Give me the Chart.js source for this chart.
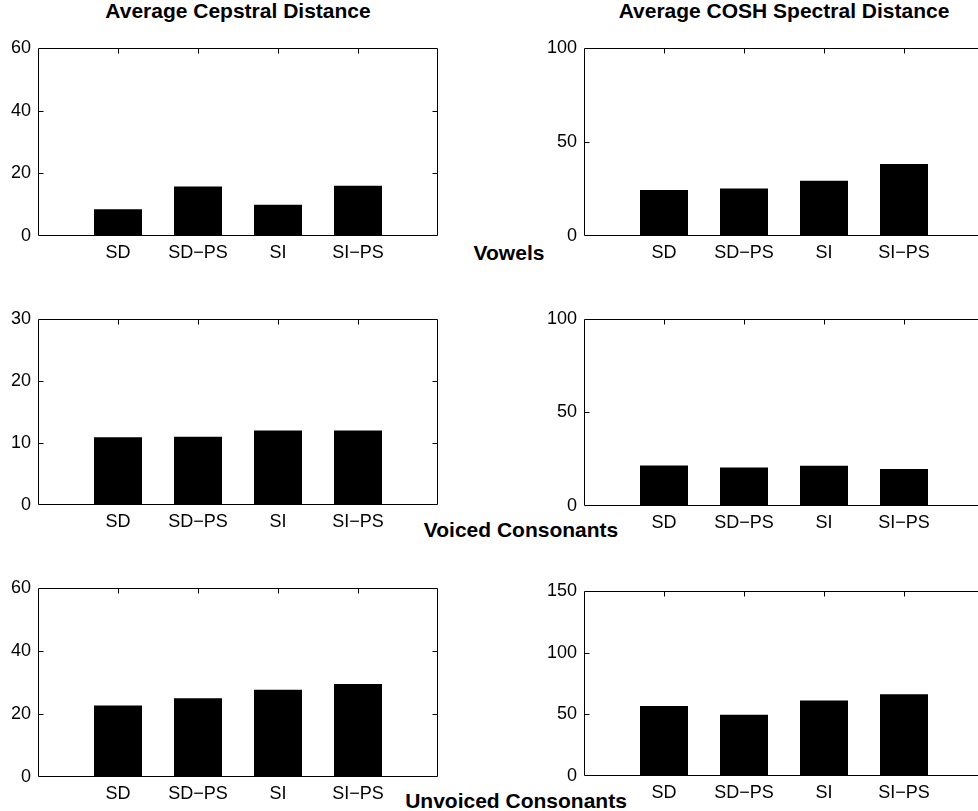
<!DOCTYPE html>
<html lang="en">
<head>
  <meta charset="UTF-8">
  <title>Average Cepstral / COSH Spectral Distance</title>
  <script src="https://cdn.jsdelivr.net/npm/chart.js"></script>
  <style>
    html, body { margin: 0; padding: 0; background: #fff; overflow: hidden; }
    body { width: 978px; height: 811px; position: relative; font-family: "Liberation Sans", Arial, Helvetica, sans-serif; }
    canvas { position: absolute; }
    .lbl { position: absolute; font-weight: bold; font-size: 21px; line-height: 21px; white-space: nowrap; color: #000; transform: translateX(-50%); }
  </style>
</head>
<body>
  <div class="lbl" style="left:238px; top:0px;">Average Cepstral Distance</div>
  <div class="lbl" style="left:784px; top:0px;">Average COSH Spectral Distance</div>
  <div class="lbl" style="left:509px; top:242px;">Vowels</div>
  <div class="lbl" style="left:521px; top:519px;">Voiced Consonants</div>
  <div class="lbl" style="left:516px; top:790px;">Unvoiced Consonants</div>

  <canvas id="cepVowels"></canvas>
  <canvas id="coshVowels"></canvas>
  <canvas id="cepVoiced"></canvas>
  <canvas id="coshVoiced"></canvas>
  <canvas id="cepUnvoiced"></canvas>
  <canvas id="coshUnvoiced"></canvas>

<script>
// data
const categories = ["SD", "SD\u2212PS", "SI", "SI\u2212PS"];

const cepstralVowels    = [8.5, 15.8, 10.0, 16.0];
const coshVowels        = [24.4, 25.3, 29.3, 38.2];
const cepstralVoiced    = [10.9, 11.0, 12.0, 12.0];
const coshVoiced        = [21.7, 20.5, 21.5, 19.7];
const cepstralUnvoiced  = [22.7, 25.0, 27.7, 29.5];
const coshUnvoiced      = [56.6, 49.6, 61.1, 66.2];

const yMax  = [60, 100, 30, 100, 60, 150];
const yStep = [20, 50, 10, 50, 20, 50];

Chart.defaults.font.family = '"Liberation Sans", Arial, Helvetica, sans-serif';
Chart.defaults.color = "#000";

// matlab style box with inward ticks
const boxPlugin = {
  id: "box",
  afterDraw(chart) {
    const { ctx, chartArea: a } = chart;
    const xs = chart.scales.x, ys = chart.scales.y;
    const l = Math.round(a.left) + 0.5, r = Math.round(a.right) - 0.5;
    const t = Math.round(a.top) + 0.5, b = Math.round(a.bottom) - 0.5;
    ctx.save();
    ctx.strokeStyle = "#000";
    ctx.lineWidth = 1;
    ctx.beginPath();
    ctx.rect(l, t, r - l, b - t);
    ys.ticks.forEach(tk => {
      if (tk.value <= ys.min || tk.value >= ys.max) return;
      const py = Math.round(ys.getPixelForValue(tk.value)) + 0.5;
      ctx.moveTo(l, py); ctx.lineTo(l + 5, py);
      ctx.moveTo(r, py); ctx.lineTo(r - 5, py);
    });
    xs.ticks.forEach(tk => {
      if (tk.value <= xs.min || tk.value >= xs.max) return;
      const px = Math.round(xs.getPixelForValue(tk.value)) + 0.5;
      ctx.moveTo(px, t); ctx.lineTo(px, t + 5);
      ctx.moveTo(px, b); ctx.lineTo(px, b - 5);
    });
    ctx.stroke();
    ctx.restore();
  }
};

function makePanel(id, values, max, step, left, top, bottom) {
  const axisW = 60, padTop = 15, padRight = 15, axisH = 40, plotW = 400;
  const h = bottom - top;
  const cv = document.getElementById(id);
  cv.width = axisW + plotW + padRight;
  cv.height = padTop + h + axisH;
  cv.style.left = (left - axisW) + "px";
  cv.style.top = (top - padTop) + "px";

  new Chart(cv.getContext("2d"), {
    type: "bar",
    data: {
      datasets: [{
        data: values.map((v, i) => ({ x: i + 1, y: v })),
        backgroundColor: "#000",
        borderWidth: 0,
        barPercentage: 0.6,
        categoryPercentage: 1
      }]
    },
    options: {
      responsive: false,
      animation: false,
      events: [],
      layout: { padding: { top: padTop, right: padRight, left: 0, bottom: 0 } },
      plugins: { legend: { display: false }, tooltip: { enabled: false } },
      scales: {
        x: {
          type: "linear",
          min: 0,
          max: 5,
          offset: false,
          grid: { display: false, drawTicks: false, offset: false },
          border: { display: false },
          ticks: {
            stepSize: 1,
            autoSkip: false,
            maxRotation: 0,
            padding: 6,
            font: { size: 18 },
            callback: v => categories[v - 1] || ""
          },
          afterFit: s => { s.height = axisH; }
        },
        y: {
          min: 0,
          max: max,
          grid: { display: false, drawTicks: false },
          border: { display: false },
          ticks: { stepSize: step, padding: 7, font: { size: 18 } },
          afterFit: s => { s.width = axisW; }
        }
      }
    },
    plugins: [boxPlugin]
  });
}

makePanel("cepVowels",    cepstralVowels,   yMax[0], yStep[0], 38, 45, 236);
makePanel("coshVowels",   coshVowels,       yMax[1], yStep[1], 584, 45, 236);
makePanel("cepVoiced",    cepstralVoiced,   yMax[2], yStep[2], 38, 316, 505);
makePanel("coshVoiced",   coshVoiced,       yMax[3], yStep[3], 584, 316, 506);
makePanel("cepUnvoiced",  cepstralUnvoiced, yMax[4], yStep[4], 38, 585, 777);
makePanel("coshUnvoiced", coshUnvoiced,     yMax[5], yStep[5], 584, 588, 776);
</script>
</body>
</html>
